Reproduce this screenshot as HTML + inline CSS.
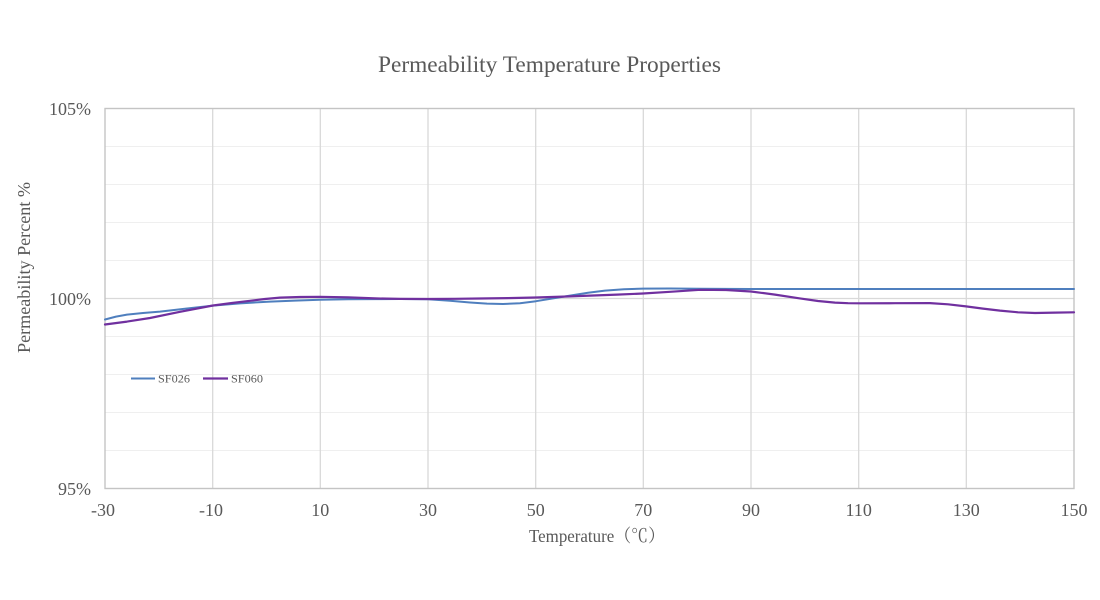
<!DOCTYPE html>
<html>
<head>
<meta charset="utf-8">
<style>
  html, body { margin: 0; padding: 0; background: #ffffff; }
  body { width: 1100px; height: 600px; overflow: hidden; }
  svg { display: block; }
  text { font-family: "Liberation Serif", "Noto Serif CJK SC", serif; fill: #595959; }
</style>
</head>
<body>
<svg width="1100" height="600" viewBox="0 0 1100 600" xmlns="http://www.w3.org/2000/svg">
  <rect x="0" y="0" width="1100" height="600" fill="#ffffff"/>

  <!-- Title -->
  <text x="549.5" y="72" font-size="23" text-anchor="middle" textLength="343" lengthAdjust="spacingAndGlyphs">Permeability Temperature Properties</text>

  <!-- minor horizontal gridlines -->
  <g stroke="#efefef" stroke-width="1">
    <line x1="105" y1="146.5" x2="1074" y2="146.5"/>
    <line x1="105" y1="184.5" x2="1074" y2="184.5"/>
    <line x1="105" y1="222.5" x2="1074" y2="222.5"/>
    <line x1="105" y1="260.5" x2="1074" y2="260.5"/>
    <line x1="105" y1="336.5" x2="1074" y2="336.5"/>
    <line x1="105" y1="374.5" x2="1074" y2="374.5"/>
    <line x1="105" y1="412.5" x2="1074" y2="412.5"/>
    <line x1="105" y1="450.5" x2="1074" y2="450.5"/>
  </g>

  <!-- major horizontal gridline 100% -->
  <line x1="105" y1="298.5" x2="1074" y2="298.5" stroke="#d9d9d9" stroke-width="1.3"/>

  <!-- vertical gridlines -->
  <g stroke="#d9d9d9" stroke-width="1.3">
    <line x1="212.7" y1="108.5" x2="212.7" y2="488.5"/>
    <line x1="320.3" y1="108.5" x2="320.3" y2="488.5"/>
    <line x1="428" y1="108.5" x2="428" y2="488.5"/>
    <line x1="535.7" y1="108.5" x2="535.7" y2="488.5"/>
    <line x1="643.3" y1="108.5" x2="643.3" y2="488.5"/>
    <line x1="751" y1="108.5" x2="751" y2="488.5"/>
    <line x1="858.7" y1="108.5" x2="858.7" y2="488.5"/>
    <line x1="966.3" y1="108.5" x2="966.3" y2="488.5"/>
  </g>

  <!-- plot border -->
  <rect x="105" y="108.5" width="969" height="380" fill="none" stroke="#c4c4c4" stroke-width="1.4"/>

  <!-- Y tick labels -->
  <g font-size="18" text-anchor="end">
    <text x="91" y="115">105%</text>
    <text x="91" y="305">100%</text>
    <text x="91" y="495">95%</text>
  </g>

  <!-- X tick labels -->
  <g font-size="18" text-anchor="middle">
    <text x="103" y="516">-30</text>
    <text x="211" y="516">-10</text>
    <text x="320.3" y="516">10</text>
    <text x="428" y="516">30</text>
    <text x="535.7" y="516">50</text>
    <text x="643.3" y="516">70</text>
    <text x="751" y="516">90</text>
    <text x="858.7" y="516">110</text>
    <text x="966.3" y="516">130</text>
    <text x="1074" y="516">150</text>
  </g>

  <!-- Axis titles -->
  <text x="597" y="542" font-size="18" text-anchor="middle" textLength="136" lengthAdjust="spacingAndGlyphs">Temperature（℃）</text>
  <text transform="translate(30,267.5) rotate(-90)" font-size="18" text-anchor="middle" textLength="171" lengthAdjust="spacingAndGlyphs">Permeability Percent %</text>

  <!-- Series SF026 (blue) -->
  <polyline fill="none" stroke="#4f7fbe" stroke-width="2" stroke-linejoin="round" stroke-linecap="round"
    points="105,319.5 116,316.6 127,314.6 143,313 160,311.6 186,308.6 213,305.6 240,303.4 270,301.6 295,300.6 320,299.8 348,299.3 375,299.1 400,299 428,299.3 450,300.8 470,302.5 487,303.6 503,304 520,303.2 536,301.2 553,298.4 570,295.6 588,292.8 605,290.6 624,289.2 643,288.6 670,288.5 700,288.7 725,288.9 750,289 1074,289"/>

  <!-- Series SF060 (purple) -->
  <polyline fill="none" stroke="#70309f" stroke-width="2.2" stroke-linejoin="round" stroke-linecap="round"
    points="105,324.5 127,321.6 150,318 180,311.8 213,305.5 232,303 250,300.8 265,299 280,297.6 300,297 320,296.8 348,297.4 375,298.4 400,298.9 428,299 455,298.8 480,298.5 508,298.1 536,297.5 563,296.6 590,295.6 617,294.6 643,293.5 670,291.8 700,289.8 726,290 751,291.5 775,294.6 800,298.4 818,301 835,302.6 848,303.2 860,303.3 895,303.2 930,303.1 948,304.3 966,306.4 983,308.6 1000,310.6 1018,312.3 1035,313 1055,312.6 1074,312.3"/>

  <!-- Legend -->
  <line x1="131" y1="378.5" x2="155" y2="378.5" stroke="#4f7fbe" stroke-width="2"/>
  <text x="158" y="382.5" font-size="12" textLength="32" lengthAdjust="spacingAndGlyphs">SF026</text>
  <line x1="203" y1="378.5" x2="228" y2="378.5" stroke="#70309f" stroke-width="2.2"/>
  <text x="231" y="382.5" font-size="12" textLength="32" lengthAdjust="spacingAndGlyphs">SF060</text>
</svg>
</body>
</html>
